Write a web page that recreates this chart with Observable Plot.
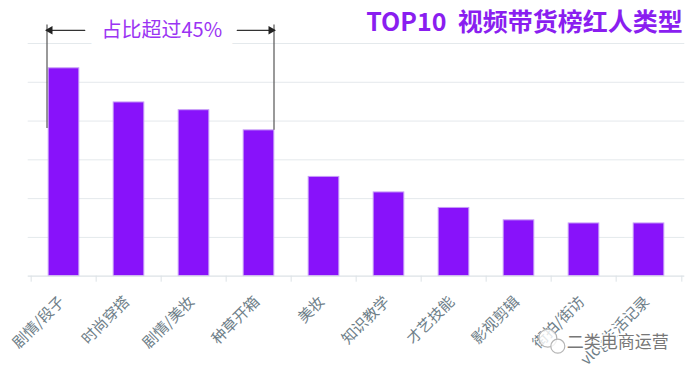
<!DOCTYPE html>
<html>
<head>
<meta charset="utf-8">
<script src="https://cdn.jsdelivr.net/npm/d3@7"></script>
<script src="https://cdn.jsdelivr.net/npm/@observablehq/plot@0.6"></script>
<style>
  html, body { margin: 0; padding: 0; background: #fff; }
  #chart { width: 692px; height: 374px; }
  #chart svg text { white-space: pre; }
</style>
</head>
<body>
<div id="chart"></div>
<script>
const categories = ["剧情/段子", "时尚穿搭", "剧情/美妆", "种草开箱", "美妆", "知识教学", "才艺技能", "影视剪辑", "街拍/街访", "vlog生活记录"];
const values = [13.4, 11.2, 10.7, 9.4, 6.4, 5.4, 4.4, 3.6, 3.4, 3.4];
const gridTicks = [2.5, 5, 7.5, 10, 12.5, 15];
const titleText = "TOP10  视频带货榜红人类型";
const annotationText = "占比超过45%";
const watermarkText = "二类电商运营";

const data = categories.map((c, i) => ({category: c, value: values[i]}));

const W = 692, H = 374;
const mL = 27.7, mR = 7.7, mT = 43, mB = 98.3;
const step = (W - mL - mR) / categories.length;
const half = step / 2;
const annY = 15.85;   // annotation line height (data units)
const annTop = 16.2;

const chart = Plot.plot({
  width: W,
  height: H,
  marginLeft: mL,
  marginRight: mR,
  marginTop: mT,
  marginBottom: mB,
  style: {fontFamily: "'Noto Sans CJK SC', 'Noto Sans', sans-serif", background: "#fff", overflow: "visible"},
  x: {domain: categories, padding: 0, axis: null},
  y: {domain: [0, 15], axis: null},
  marks: [
    Plot.ruleY(gridTicks, {stroke: "#e4e9ec", strokeWidth: 1}),
    Plot.barY(data, {x: "category", y: "value", fill: "#8812fa", stroke: "#c79cf7", strokeWidth: 1, insetLeft: 17.2, insetRight: 17.2}),
    Plot.ruleY([0], {stroke: "#dce2e6", strokeWidth: 1.2}),
    // boundary ticks
    Plot.ruleX(categories, {x: d => d, dx: -half, y1: 0, y2: 0, insetBottom: -6, stroke: "#dce2e6"}),
    Plot.ruleX([categories[categories.length - 1]], {x: d => d, dx: half, y1: 0, y2: 0, insetBottom: -6, stroke: "#dce2e6"}),
    // x labels
    Plot.text(categories, {x: d => d, y: 0, text: d => d, rotate: -45, textAnchor: "end", lineAnchor: "middle", dx: -2, dy: 23, fontSize: 15, fill: "#6e7e88"}),
    // annotation bracket
    Plot.ruleX([categories[0]], {x: d => d, dx: -17, y1: () => 9.52, y2: () => annTop, stroke: "#555", strokeWidth: 1.2}),
    Plot.ruleX([categories[3]], {x: d => d, dx: 15, y1: () => values[3], y2: () => annTop, stroke: "#555", strokeWidth: 1.2}),
    Plot.arrow([0], {x1: () => categories[1], x2: () => categories[0], y1: () => annY, y2: () => annY, dx: -17, insetStart: 27.2, headLength: 0, stroke: "#333", strokeWidth: 1.2}),
    Plot.arrow([0], {x1: () => categories[2], x2: () => categories[3], y1: () => annY, y2: () => annY, dx: 15, insetStart: 28.2, headLength: 0, stroke: "#333", strokeWidth: 1.2}),
    Plot.dot([categories[0]], {x: d => d, y: () => annY, dx: -14, symbol: "triangle", rotate: -90, r: 3.2, fill: "#222", stroke: null}),
    Plot.dot([categories[3]], {x: d => d, y: () => annY, dx: 12, symbol: "triangle", rotate: 90, r: 3.2, fill: "#222", stroke: null}),
    Plot.text([annotationText], {x: () => categories[1], y: () => annY, dx: half, text: d => d, fontSize: 20, fill: "#9b34f3", stroke: "white", strokeWidth: 28, lineAnchor: "middle"}),
    // title
    Plot.text([titleText], {frameAnchor: "top-right", text: d => d, dx: -2, dy: -20.5, lineAnchor: "middle", textAnchor: "end", fontSize: 25, fontWeight: 700, fill: "#8a1ef0"}),
    // watermark icon (two bubbles) and text
    Plot.dot([0], {frameAnchor: "bottom-right", dx: -137, dy: 62, r: 9, fill: "white", fillOpacity: 0.8, stroke: "#b5b5b5", strokeWidth: 1.2}),
    Plot.dot([0], {frameAnchor: "bottom-right", dx: -127, dy: 70, r: 7, fill: "white", fillOpacity: 0.8, stroke: "#b5b5b5", strokeWidth: 1.2}),
    Plot.text([watermarkText], {frameAnchor: "bottom-right", text: d => d, dx: -16, dy: 66.3, lineAnchor: "middle", textAnchor: "end", fontSize: 17, fill: "#777", stroke: "white", strokeWidth: 3})
  ]
});
document.getElementById("chart").appendChild(chart);
</script>
</body>
</html>
